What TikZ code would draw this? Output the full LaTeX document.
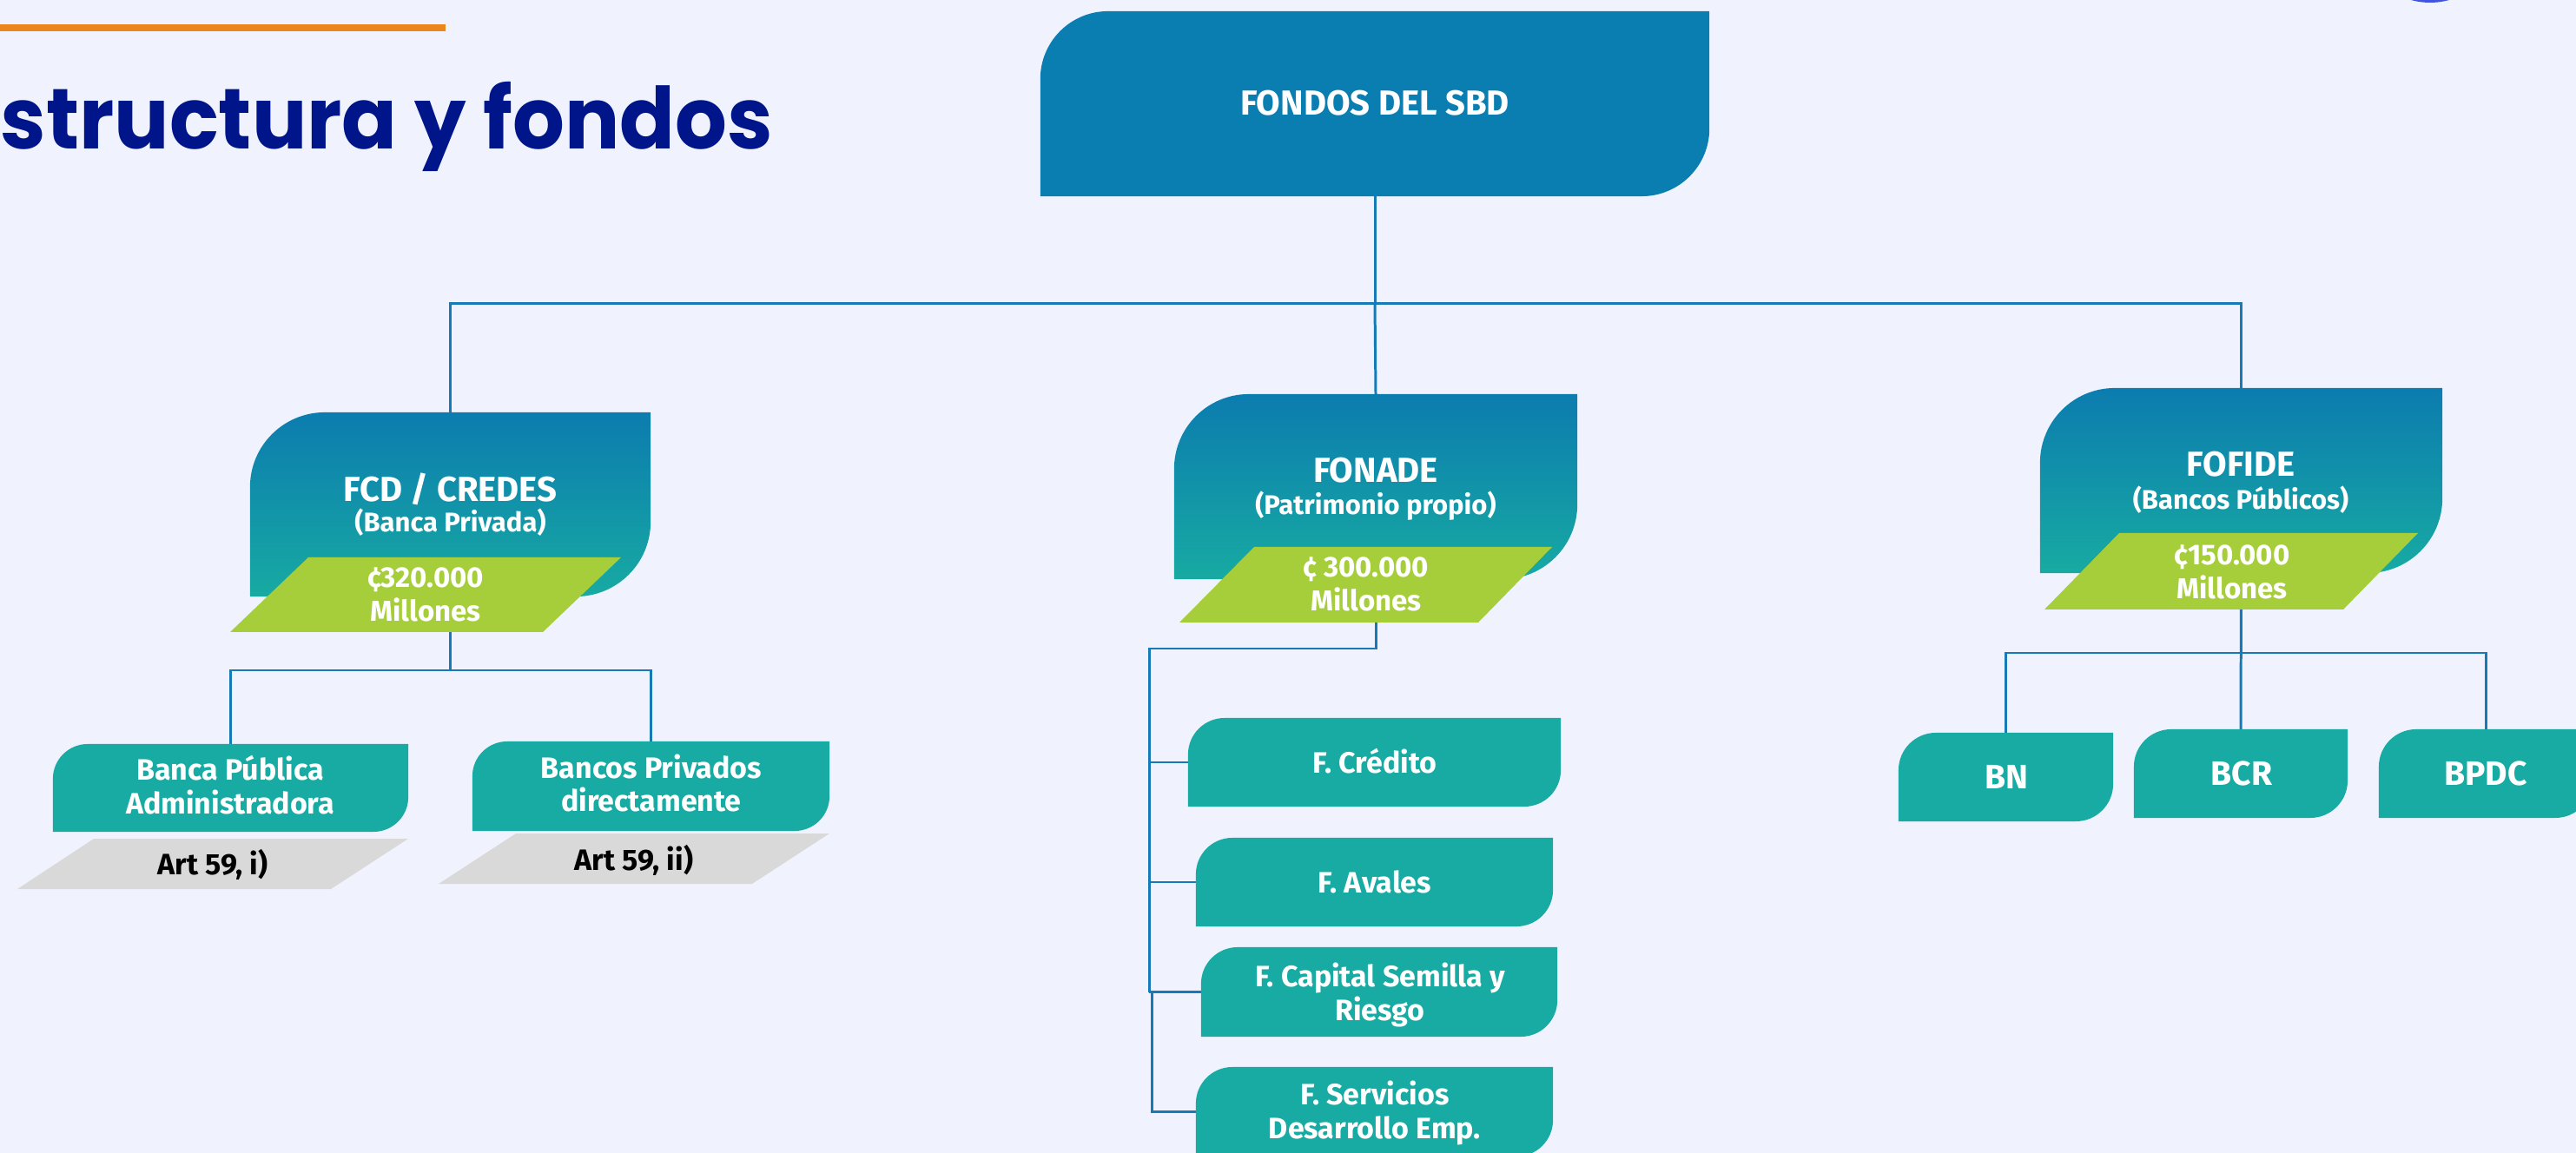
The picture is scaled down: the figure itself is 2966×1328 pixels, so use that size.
\documentclass[tikz,border=0pt]{standalone}
\usepackage{fontspec}
\setmainfont{Fira Sans}
\newfontfamily\titlefont{Poppins}[FakeStretch=0.955]
\usetikzlibrary{calc}
\definecolor{bgc}{RGB}{240,243,254}
\definecolor{sbdblue}{RGB}{11,126,177}
\definecolor{gtop}{RGB}{12,124,175}
\definecolor{gbot}{RGB}{23,170,162}
\definecolor{tealc}{RGB}{23,171,163}
\definecolor{greenc}{RGB}{166,206,58}
\definecolor{grayc}{RGB}{217,217,217}
\definecolor{linec}{RGB}{22,122,182}
\definecolor{orangec}{RGB}{234,134,26}
\definecolor{navyc}{RGB}{0,21,137}
\definecolor{logoc}{RGB}{64,84,224}
\pgfdeclarelayer{back}
\pgfdeclarelayer{lines}
\pgfdeclarelayer{boxes}
\pgfdeclarelayer{paras}
\pgfsetlayers{back,lines,boxes,paras,main}
\newcommand\tlbrshape[3]{\path[#3] (#1.south west) -- ([yshift=-#2]#1.north west) arc[start angle=180,end angle=90,radius=#2] -- (#1.north east) -- ([yshift=#2]#1.south east) arc[start angle=0,end angle=-90,radius=#2] -- cycle;}
\newcommand\paragram[7]{\fill[#1] (#6,#3) -- (#4,#2) -- (#5,#2) -- (#7,#3) -- cycle;}
\tikzset{
  bx/.style={inner sep=0pt, outer sep=0pt},
  conn/.style={draw=linec, line width=0.85pt},
  txtA/.style={text=white, font=\bfseries\fontsize{11.38}{13}\selectfont, inner sep=0pt, anchor=base},
  txtB/.style={text=white, font=\bfseries\fontsize{8.82}{10}\selectfont, inner sep=0pt, anchor=base},
  txtG/.style={text=white, font=\bfseries\fontsize{9.39}{11.1}\selectfont, align=center, inner sep=0pt, anchor=base},
  txtL/.style={text=white, font=\bfseries\fontsize{9.67}{10.9}\selectfont, align=center, inner sep=0pt, anchor=base},
  txtK/.style={text=black, font=\bfseries\fontsize{9.67}{10.9}\selectfont, inner sep=0pt, anchor=base},
  txtN/.style={text=white, font=\bfseries\fontsize{11.1}{13}\selectfont, inner sep=0pt, anchor=base},
  gradfill/.style={shade, top color=gtop, bottom color=gbot},
}
\begin{document}
\begin{tikzpicture}[x=0.01cm, y=-0.01cm]
\useasboundingbox (0,0) rectangle (2966,1328);
\begin{pgfonlayer}{back}
  \fill[bgc] (0,0) rectangle (2966,1328);
  \fill[orangec] (0,28) rectangle (513,36);
  \fill[logoc] (2798,-78) circle[radius=81];
\end{pgfonlayer}

% title
\node[anchor=base east, inner sep=0pt, text=navyc, font=\titlefont\bfseries\fontsize{28.0}{32}\selectfont] (title) at (891,172) {Estructura y fondos};

% box nodes
\node[bx, minimum width=7.70cm, minimum height=2.13cm] (sbd) at (1583,119.5) {};
\node[bx, minimum width=4.61cm, minimum height=2.12cm] (fcd) at (518.5,581) {};
\node[bx, minimum width=4.64cm, minimum height=2.13cm] (fonade) at (1584,560.5) {};
\node[bx, minimum width=4.63cm, minimum height=2.13cm] (fofide) at (2580.5,553.5) {};
\node[bx, minimum width=4.09cm, minimum height=1.01cm] (bpa) at (265.5,907.5) {};
\node[bx, minimum width=4.11cm, minimum height=1.03cm] (bpd) at (749.5,905.5) {};
\node[bx, minimum width=4.29cm, minimum height=1.02cm] (fcred) at (1582.5,878) {};
\node[bx, minimum width=4.11cm, minimum height=1.02cm] (faval) at (1582.5,1016) {};
\node[bx, minimum width=4.10cm, minimum height=1.03cm] (fcap) at (1588,1142.5) {};
\node[bx, minimum width=4.11cm, minimum height=1.03cm] (fserv) at (1582.5,1280.5) {};
\node[bx, minimum width=2.47cm, minimum height=1.02cm] (bn) at (2309.5,895) {};
\node[bx, minimum width=2.46cm, minimum height=1.02cm] (bcr) at (2580,891) {};
\node[bx, minimum width=2.46cm, minimum height=1.02cm] (bpdc) at (2862,891) {};

\begin{pgfonlayer}{boxes}
  \tlbrshape{sbd}{0.78cm}{fill=sbdblue}
  \tlbrshape{fcd}{0.86cm}{gradfill}
  \tlbrshape{fonade}{0.86cm}{gradfill}
  \tlbrshape{fofide}{0.86cm}{gradfill}
  \tlbrshape{bpa}{0.40cm}{fill=tealc}
  \tlbrshape{bpd}{0.40cm}{fill=tealc}
  \tlbrshape{fcred}{0.42cm}{fill=tealc}
  \tlbrshape{faval}{0.42cm}{fill=tealc}
  \tlbrshape{fcap}{0.42cm}{fill=tealc}
  \tlbrshape{fserv}{0.42cm}{fill=tealc}
  \tlbrshape{bn}{0.43cm}{fill=tealc}
  \tlbrshape{bcr}{0.43cm}{fill=tealc}
  \tlbrshape{bpdc}{0.43cm}{fill=tealc}
\end{pgfonlayer}

\begin{pgfonlayer}{paras}
  \paragram{greenc}{642}{728}{355}{715}{265}{625}
  \paragram{greenc}{630}{717}{1444}{1787}{1358}{1702}
  \paragram{greenc}{614}{702}{2440}{2784}{2354}{2698}
  \paragram{grayc}{966}{1024}{108}{470}{20}{381}
  \paragram{grayc}{960}{1018}{594}{955}{505}{866}
\end{pgfonlayer}

% connectors
\coordinate (hub1) at (1583,350);
\coordinate (hub2) at (518.5,772);
\coordinate (t1) at (1323,747);
\coordinate (t2) at (1323,1143);
\coordinate (t3) at (1326,1143);
\coordinate (hub3) at (2580.5,752);
\begin{pgfonlayer}{lines}
  \draw[conn] (sbd.south) -- (hub1);
  \draw[conn] (hub1) -| (fcd.north);
  \draw[conn] (hub1) -| (fofide.north);
  \draw[conn] (hub1) -- (fonade.north);
  \draw[conn] (fcd.south) -- (hub2);
  \draw[conn] (hub2) -| (bpa.north);
  \draw[conn] (hub2) -| (bpd.north);
  \draw[conn] (fonade.south) |- (t1) -- (t2);
  \draw[conn] (fcred.west -| t1) -- (fcred.west);
  \draw[conn] (faval.west -| t1) -- (faval.west);
  \draw[conn] (fcap.west -| t1) -- (fcap.west);
  \draw[conn] (t3) |- (fserv.west);
  \draw[conn] (fofide.south) -- (bcr.north);
  \draw[conn] (hub3) -| (bn.north);
  \draw[conn] (hub3) -| (bpdc.north);
\end{pgfonlayer}

% texts (multi-line nodes are placed at the baseline of their last line)
\node[txtA] (sbdT) at (1583,133) {FONDOS DEL SBD};
\node[txtA] (fcdT) at (518.5,578) {FCD / CREDES};
\node[txtB] (fcdS) at (518.5,613) {(Banca Privada)};
\node[txtG] (fcdM) at (490,716) {¢320.000\\Millones};
\node[txtA] (fonT) at (1584,556) {FONADE};
\node[txtB] (fonS) at (1584,593) {(Patrimonio propio)};
\node[txtG] (fonM) at (1573,704) {¢ 300.000\\Millones};
\node[txtA] (fofT) at (2580,549) {FOFIDE};
\node[txtB] (fofS) at (2580,587) {(Bancos Públicos)};
\node[txtG] (fofM) at (2570,690) {¢150.000\\Millones};
\node[txtL] (bpaT) at (265,937) {Banca Pública\\Administradora};
\node[txtL] (bpdT) at (750,935) {Bancos Privados\\directamente};
\node[txtK] (art1) at (245,1007) {Art 59, i)};
\node[txtK] (art2) at (730,1002) {Art 59, ii)};
\node[txtL] (fcredT) at (1583,890) {F. Crédito};
\node[txtL] (favalT) at (1583,1028) {F. Avales};
\node[txtL] (fcapT) at (1589,1175) {F. Capital Semilla y\\Riesgo};
\node[txtL] (fservT) at (1583,1311) {F. Servicios\\Desarrollo Emp.};
\node[txtN] (bnT) at (2310,909) {BN};
\node[txtN] (bcrT) at (2581,905) {BCR};
\node[txtN] (bpdcT) at (2862,905) {BPDC};
\end{tikzpicture}
\end{document}
